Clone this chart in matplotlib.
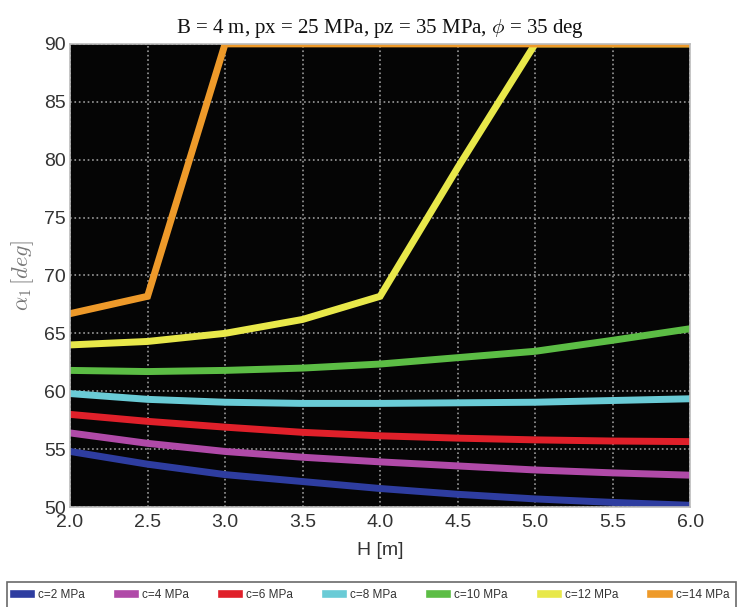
import matplotlib
matplotlib.use("Agg")
import matplotlib.pyplot as plt
from matplotlib.lines import Line2D

H = [2.0, 2.5, 3.0, 3.5, 4.0, 4.5, 5.0, 5.5, 6.0]

c2 = [54.8, 53.7, 52.8, 52.2, 51.6, 51.1, 50.7, 50.4, 50.15]
c4 = [56.4, 55.5, 54.8, 54.3, 53.9, 53.55, 53.2, 52.95, 52.75]
c6 = [58.0, 57.4, 56.9, 56.45, 56.15, 55.95, 55.8, 55.7, 55.65]
c8 = [59.8, 59.3, 59.05, 58.95, 58.95, 59.0, 59.05, 59.2, 59.35]
c10 = [61.8, 61.7, 61.8, 62.0, 62.35, 62.9, 63.45, 64.4, 65.4]
c12 = [64.0, 64.3, 65.0, 66.2, 68.2, 79.3, 90.0, 90.0, 90.0]
c14 = [66.7, 68.2, 90.0, 90.0, 90.0, 90.0, 90.0, 90.0, 90.0]

series = [c2, c4, c6, c8, c10, c12, c14]
labels = ["c=2 MPa", "c=4 MPa", "c=6 MPa", "c=8 MPa", "c=10 MPa", "c=12 MPa", "c=14 MPa"]
colors = ["#2E3DA0", "#B04AA8", "#E0202A", "#6ACBD6", "#5CBD45", "#E8E84A", "#EE9A2A"]

SANS = ["Liberation Sans", "DejaVu Sans"]
plt.rcParams["mathtext.fontset"] = "cm"

fig = plt.figure(figsize=(7.49, 6.07), dpi=100)
ax = fig.add_axes([0.0935, 0.1647, 0.828, 0.763])
ax.set_facecolor("#050505")

for vals, col in zip(series, colors):
    ax.plot(H, vals, color=col, linewidth=5, solid_joinstyle="miter")

ax.set_xlim(2.0, 6.0)
ax.set_ylim(50, 90)
ax.set_xticks(H)
ax.set_xticklabels([f"{h:.1f}" for h in H])
ax.set_yticks(range(50, 95, 5))
ax.grid(True, color="#9a9a9a", linestyle=":", linewidth=1.2)
ax.tick_params(axis="y", length=0, pad=3, labelsize=14, labelcolor="#333333")
ax.tick_params(axis="x", length=0, pad=5, labelsize=14, labelcolor="#333333")
for lab in ax.get_xticklabels() + ax.get_yticklabels():
    lab.set_family(SANS)
for s in ax.spines.values():
    s.set_color("#bbbbbb")
    s.set_linewidth(1.2)

ax.set_xlabel("H [m]", fontsize=14, color="#333333", family=SANS, labelpad=8)
ax.set_ylabel(r"$\alpha_1\,[deg]$", fontsize=16, color="#777777", labelpad=6)
ax.set_title(r"B = 4 m, px = 25 MPa, pz = 35 MPa, $\phi$ = 35 deg",
             fontsize=15, family="Liberation Serif", color="#111111", pad=8)

handles = [Line2D([], [], color=c, linewidth=5.5) for c in colors]
leg = fig.legend(handles, labels, loc="upper left", bbox_to_anchor=(0.009, 0.041),
                 ncol=7, frameon=True, fancybox=False,
                 handlelength=1.45, handletextpad=0.6, columnspacing=2.8,
                 prop={"family": SANS, "size": 8.5}, borderpad=0.6, borderaxespad=0)
leg.get_frame().set_edgecolor("#444444")
leg.get_frame().set_linewidth(1.2)
for t in leg.get_texts():
    t.set_color("#333333")

fig.savefig("out.png", dpi=100)
